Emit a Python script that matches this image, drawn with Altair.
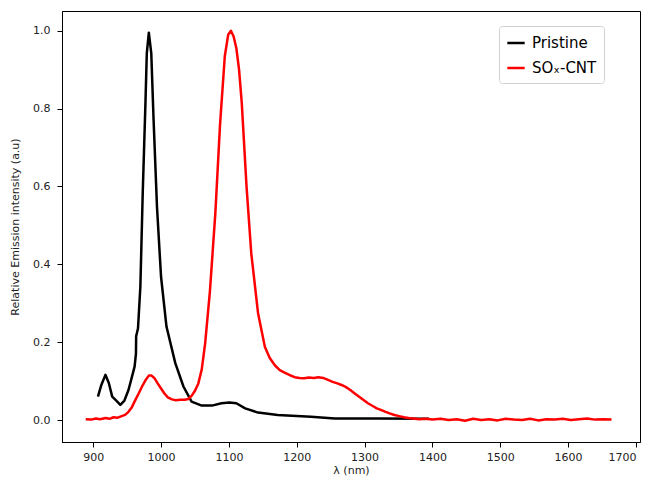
import altair as alt
import pandas as pd

# Pristine (black) spectrum
pristine_x = [907, 912, 918, 923, 928, 934, 940, 946, 952, 957, 961, 963, 963.3, 966, 969.5,
              973, 977, 979, 982, 985.6, 989, 994, 1000, 1008, 1021, 1033, 1045, 1060, 1075,
              1089, 1101, 1111, 1124, 1143, 1172, 1221, 1256, 1319, 1395]
pristine_y = [0.06, 0.09, 0.116, 0.095, 0.06, 0.05, 0.039, 0.05, 0.077, 0.11, 0.137, 0.17, 0.215, 0.235, 0.342,
              0.583, 0.814, 0.942, 0.995, 0.942, 0.771, 0.548, 0.368, 0.24, 0.146, 0.086, 0.047, 0.037, 0.037,
              0.043, 0.045, 0.043, 0.03, 0.019, 0.013, 0.0085, 0.004, 0.004, 0.003]

# SOx-CNT (red) spectrum
red_x = [889, 897, 904, 910, 918, 924, 930, 936, 942, 947,
         952, 957, 962, 967, 972, 977, 982, 986, 990,
         995, 1000, 1005, 1010, 1016, 1022, 1028, 1035, 1040, 1045,
         1050, 1055, 1060, 1065, 1072, 1080,
         1087, 1094, 1099, 1103, 1107, 1111, 1115, 1119,
         1126, 1133, 1143, 1153, 1160, 1168, 1175, 1182,
         1190, 1197, 1204, 1211, 1218, 1225, 1232, 1239, 1246, 1253, 1260, 1266, 1272, 1279, 1285,
         1292, 1298, 1305, 1312, 1318, 1324, 1331, 1337, 1344, 1351, 1358, 1365, 1372, 1380, 1390, 1400, 1412,
         1424, 1436, 1448, 1460, 1472, 1484, 1496, 1508, 1520, 1532, 1544, 1556, 1568, 1580, 1592, 1604,
         1616, 1628, 1640, 1652, 1664]
red_y = [0.002, 0.001, 0.004, 0.002, 0.005, 0.003, 0.007, 0.006, 0.010, 0.013,
         0.021, 0.033, 0.051, 0.068, 0.086, 0.102, 0.114, 0.114, 0.108,
         0.094, 0.081, 0.068, 0.058, 0.053, 0.051, 0.052, 0.052, 0.054, 0.062,
         0.075, 0.094, 0.13, 0.197, 0.33, 0.53,
         0.76, 0.935, 0.99, 1.0, 0.985, 0.955, 0.9, 0.814,
         0.6, 0.428, 0.274, 0.188, 0.16, 0.14, 0.128, 0.122,
         0.115, 0.11, 0.108, 0.107, 0.109, 0.108, 0.11, 0.108, 0.103, 0.098, 0.094, 0.09, 0.085, 0.077, 0.069,
         0.06, 0.052, 0.043, 0.036, 0.03, 0.026, 0.021, 0.017, 0.013, 0.01, 0.007, 0.005, 0.004, 0.002, 0.003, 0.001, 0.003,
         0.000, 0.002, -0.002, 0.003, 0.000, 0.002, -0.001, 0.003, 0.001, 0.000, 0.003, -0.001, 0.002, 0.001, 0.003, 0.000,
         0.002, 0.004, 0.001, 0.002, 0.001]

names = ["Pristine", "SO\u2093-CNT"]
colors = ["black", "red"]

df = pd.concat([
    pd.DataFrame({"x": pristine_x, "y": pristine_y, "s": names[0], "o": range(len(pristine_x))}),
    pd.DataFrame({"x": red_x, "y": red_y, "s": names[1], "o": range(len(red_x))}),
])

font = "DejaVu Sans"

chart = alt.Chart(df).mark_line(strokeWidth=2.5, strokeJoin="round").encode(
    x=alt.X("x:Q", scale=alt.Scale(domain=[854, 1706], nice=False, zero=False),
            axis=alt.Axis(title="\u03bb (nm)", values=list(range(900, 1800, 100)), format="d",
                          grid=False, tickSize=5, labelPadding=4, titlePadding=2, labelFlush=8)),
    y=alt.Y("y:Q", scale=alt.Scale(domain=[-0.0565, 1.0506], nice=False, zero=False),
            axis=alt.Axis(title="Relative Emission intensity (a.u)", values=[0, 0.2, 0.4, 0.6, 0.8, 1.0],
                          format=".1f", grid=False, tickSize=5, labelPadding=7, titlePadding=12)),
    color=alt.Color("s:N", scale=alt.Scale(domain=names, range=colors),
                    legend=alt.Legend(title=None, orient="none", legendX=437, legendY=15,
                                      symbolType="stroke", symbolStrokeWidth=2.5, symbolSize=300,
                                      labelFontSize=15, labelFont=font, labelColor="black",
                                      rowPadding=7, padding=7, strokeColor="#d0d0d0",
                                      fillColor="white", cornerRadius=3, labelOffset=6)),
    order="o:Q",
).properties(
    width=578, height=431,
    autosize=alt.AutoSizeParams(type="none"),
    padding={"left": 54, "top": 3, "right": 2, "bottom": 37},
).configure_view(
    stroke="black", strokeWidth=1
).configure_axis(
    domainColor="black", tickColor="black", labelColor="#222", titleColor="#222",
    labelFont=font, titleFont=font, labelFontSize=11, titleFontSize=11, titleFontWeight="normal",
    domainWidth=1, tickWidth=1
)

chart.save("out.html", embed_options={"renderer": "svg", "actions": False})
